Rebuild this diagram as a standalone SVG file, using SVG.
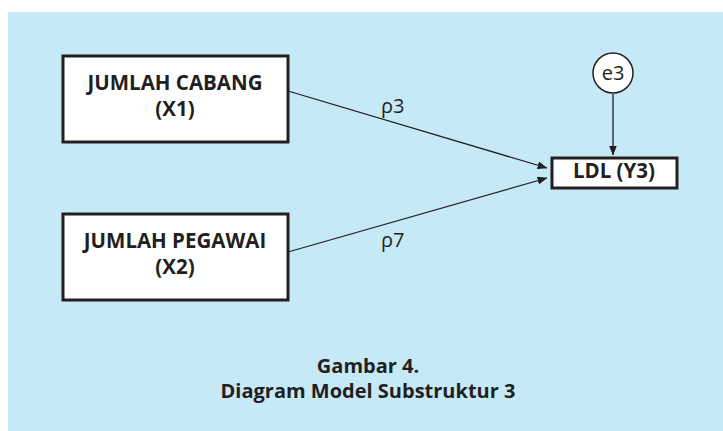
<svg xmlns="http://www.w3.org/2000/svg" width="723" height="431" viewBox="0 0 723 431">
<style>
.box{fill:#fff;stroke:#231f20;stroke-width:3}
.t{font-family:"Open Sans","Noto Sans","Liberation Sans",sans-serif;font-weight:bold;fill:#231f20;text-anchor:middle;font-size:20.5px}
.cap{font-size:20px}
.l{font-family:"Open Sans","Noto Sans","Liberation Sans",sans-serif;fill:#231f20;font-size:20px}
.c{fill:none;stroke:#231f20;stroke-width:1.3}
</style>
<defs>
<marker id="ah" markerWidth="10" markerHeight="8" refX="9.5" refY="4" orient="auto" markerUnits="userSpaceOnUse" viewBox="0 0 10 8">
<path d="M0,0 L10,4 L0,8 Z" fill="#231f20"/>
</marker>
</defs>
<rect x="8" y="12" width="715" height="419" fill="#c6e9f8"/>
<g id="connectors">
<line class="c" x1="288" y1="91" x2="547" y2="168" marker-end="url(#ah)"/>
<line class="c" x1="288" y1="252" x2="547" y2="178" marker-end="url(#ah)"/>
<line class="c" x1="613" y1="94" x2="613" y2="155" marker-end="url(#ah)"/>
<text class="l" x="381" y="113">ρ3</text>
<text class="l" x="381" y="247">ρ7</text>
</g>
<g id="x1">
<rect class="box" x="63" y="56" width="225" height="86"/>
<text class="t" x="175" y="90">JUMLAH CABANG</text>
<text class="t" x="175" y="116">(X1)</text>
</g>
<g id="x2">
<rect class="box" x="63" y="214" width="225" height="86"/>
<text class="t" x="175" y="248">JUMLAH PEGAWAI</text>
<text class="t" x="175" y="274">(X2)</text>
</g>
<g id="y3">
<rect class="box" x="552" y="158" width="125" height="30"/>
<text class="t" x="614" y="178">LDL (Y3)</text>
</g>
<g id="e3">
<circle cx="613" cy="73" r="20" fill="#fff" stroke="#231f20" stroke-width="1.5"/>
<text class="l" x="613" y="80" text-anchor="middle" font-size="22">e3</text>
</g>
<g id="caption">
<text class="t cap" x="368" y="373">Gambar 4.</text>
<text class="t cap" x="368" y="398">Diagram Model Substruktur 3</text>
</g>
</svg>
